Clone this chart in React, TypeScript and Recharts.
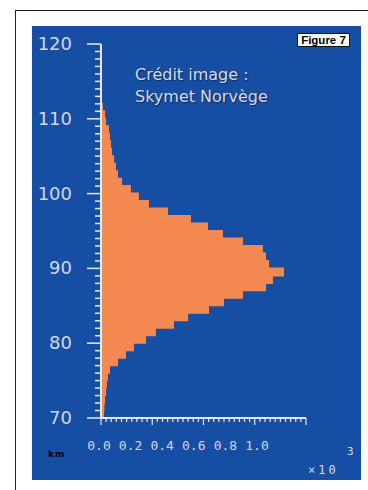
import React from "react";
import { BarChart, Bar, XAxis, YAxis } from "recharts";

// altitude bins (km, lower edge) and counts (x 10^3)
const binStarts = [
  70, 71, 72, 73, 74, 75, 76, 77, 78, 79, 80, 81, 82, 83, 84, 85, 86, 87, 88, 89,
  90, 91, 92, 93, 94, 95, 96, 97, 98, 99, 100, 101, 102, 103, 104, 105, 106, 107,
  108, 109, 110, 111,
];
const counts = [
  0.01, 0.012, 0.015, 0.02, 0.024, 0.029, 0.039, 0.078, 0.117, 0.156, 0.215, 0.263,
  0.351, 0.42, 0.522, 0.595, 0.688, 0.8, 0.834, 0.888, 0.815, 0.8, 0.785, 0.688,
  0.59, 0.517, 0.434, 0.322, 0.229, 0.18, 0.141, 0.098, 0.078, 0.068, 0.059, 0.049,
  0.044, 0.039, 0.034, 0.02, 0.015, 0.005,
];

const altTicks = Array.from({ length: 51 }, (_, i) => 70 + i);
const countTicks = Array.from({ length: 41 }, (_, i) => i * 0.025);
const countLabels = [0, 0.2, 0.4, 0.6, 0.8, 1.0];

const data = binStarts.map((b, i) => ({ alt: b + 0.5, count: counts[i] }));

const BLUE = "#164ea3";
const ORANGE = "#f38850";
const AXIS = "#e6e8f4";
const LABEL = "#d2d6ea";

function AltTick(props: any) {
  const { x, y, payload } = props;
  const v = payload.value;
  const major = v % 10 === 0;
  return (
    <g>
      <line x1={x - (major ? 14 : 6)} x2={x} y1={y} y2={y} stroke={AXIS} strokeWidth={1.5} />
      {major && (
        <text
          x={x - 29}
          y={y}
          dy={6}
          textAnchor="end"
          fill={LABEL}
          fontFamily="DejaVu Sans"
          fontSize={18}
        >
          {v}
        </text>
      )}
    </g>
  );
}

function CountTick(props: any) {
  const { x, y, payload } = props;
  const v = payload.value;
  const idx = Math.round(v / 0.025);
  const major = idx % 10 === 0;
  const lab = countLabels.find((c) => Math.abs(c - v) < 1e-6);
  return (
    <g>
      <line x1={x} x2={x} y1={y} y2={y + (major ? 7 : 4)} stroke={AXIS} strokeWidth={1.2} />
      {lab !== undefined && (
        <text
          x={x - 2 - 47 * v}
          y={y + 32}
          textAnchor="middle"
          fill={LABEL}
          fontFamily="DejaVu Sans Mono"
          fontSize={13}
        >
          {lab.toFixed(1)}
        </text>
      )}
    </g>
  );
}

export default function App() {
  return (
    <div
      style={{
        position: "absolute",
        left: 0,
        top: 0,
        width: 368,
        height: 490,
        background: "#fff",
        overflow: "hidden",
      }}
    >
      <div
        style={{
          position: "absolute",
          left: 15,
          top: 10,
          width: 400,
          height: 500,
          borderLeft: "1.5px solid #222",
          borderTop: "1.5px solid #222",
        }}
      />
      <div
        style={{
          position: "absolute",
          left: 32,
          top: 26,
          width: 329,
          height: 454,
          background: BLUE,
        }}
      >
        <BarChart
          width={329}
          height={454}
          data={data}
          layout="vertical"
          margin={{ top: 18, right: 55, bottom: 0, left: 0 }}
          barCategoryGap={0}
          barGap={0}
        >
          <XAxis
            type="number"
            dataKey="count"
            domain={[0, 1]}
            ticks={countTicks}
            interval={0}
            tick={<CountTick />}
            tickLine={false}
            tickSize={0}
            tickMargin={0}
            axisLine={{ stroke: AXIS, strokeWidth: 2 }}
            height={62}
            allowDataOverflow
          />
          <YAxis
            type="number"
            dataKey="alt"
            domain={[70, 120]}
            reversed
            ticks={altTicks}
            interval={0}
            tick={<AltTick />}
            tickLine={false}
            tickSize={0}
            tickMargin={0}
            axisLine={{ stroke: AXIS, strokeWidth: 2 }}
            width={69}
            allowDataOverflow
          />
          <Bar
            dataKey="count"
            fill={ORANGE}
            stroke={ORANGE}
            strokeWidth={2}
            isAnimationActive={false}
          />
        </BarChart>
        <div
          style={{
            position: "absolute",
            left: 103,
            top: 38,
            color: "#d8dae6",
            fontFamily: "DejaVu Sans",
            fontSize: 16,
            lineHeight: "22px",
            textShadow: "1px 1px 1px rgba(0,0,30,0.5)",
          }}
        >
          Crédit image :<br />
          Skymet Norvège
        </div>
        <div
          style={{
            position: "absolute",
            left: 265,
            top: 7,
            width: 51,
            height: 12,
            background: "#fff",
            border: "1px solid #111",
            color: "#000",
            fontFamily: "Liberation Sans",
            fontWeight: "bold",
            fontSize: 11.5,
            lineHeight: "12px",
            textAlign: "center",
          }}
        >
          Figure 7
        </div>
        <div
          style={{
            position: "absolute",
            left: 16,
            top: 423,
            color: "#000",
            fontFamily: "DejaVu Sans",
            fontWeight: "bold",
            fontSize: 9,
            letterSpacing: 1,
          }}
        >
          km
        </div>
        <div
          style={{
            position: "absolute",
            left: 276,
            top: 437,
            color: LABEL,
            fontFamily: "DejaVu Sans Mono",
            fontSize: 12,
            letterSpacing: 3,
          }}
        >
          ×10
        </div>
        <div
          style={{
            position: "absolute",
            left: 315,
            top: 419,
            color: LABEL,
            fontFamily: "DejaVu Sans Mono",
            fontSize: 11,
          }}
        >
          3
        </div>
      </div>
    </div>
  );
}
